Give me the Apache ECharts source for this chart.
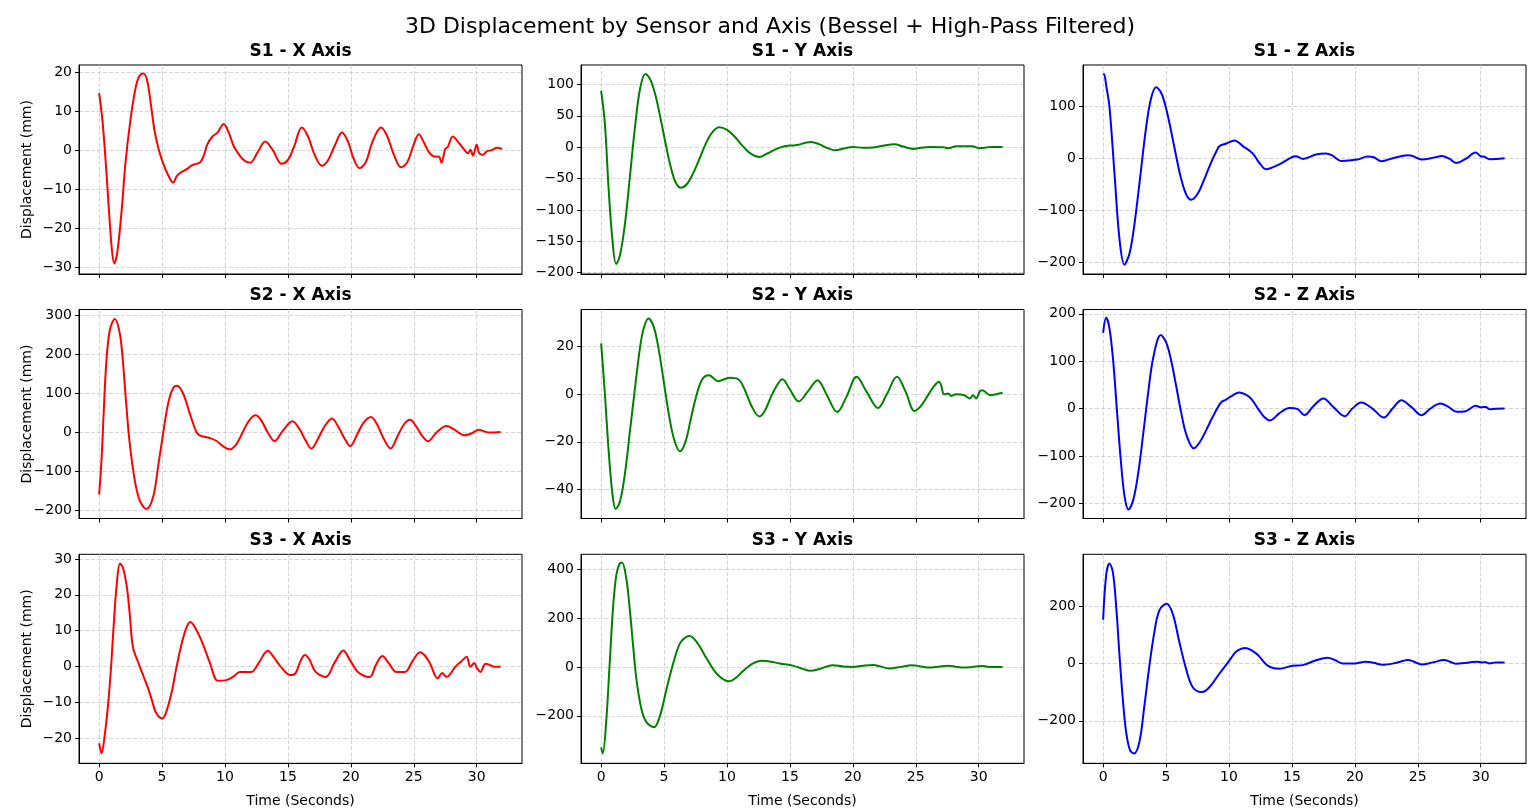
<!DOCTYPE html>
<html>
<head>
<meta charset="utf-8">
<script src="https://cdn.jsdelivr.net/npm/echarts@6/dist/echarts.min.js"></script>
<style>
  html, body { margin: 0; padding: 0; background: #fff; }
  #chart { width: 1539px; height: 810px; }
</style>
</head>
<body>
<div id="chart"></div>
<script>
// [time (s), displacement (mm)]
const s1x = [[0,14.6],[0.25,8],[0.5,-2],[0.75,-14],[1.0,-25],[1.2,-29],[1.45,-26],[1.8,-15],[2.1,-3],[2.5,8],[2.9,16],[3.2,19],[3.5,19.6],[3.8,18],[4.1,12],[4.4,5],[4.75,0],[5.1,-3.5],[5.5,-6.5],[5.87,-8.3],[6.2,-6.5],[6.6,-5.5],[7.0,-4.8],[7.3,-4],[7.7,-3.5],[8.0,-3.2],[8.3,-1.5],[8.6,1.5],[9.0,3.5],[9.4,4.5],[9.9,6.7],[10.3,4.5],[10.7,1],[11.2,-1.5],[11.6,-2.8],[12.0,-3.2],[12.6,-0.5],[13.2,2.2],[13.8,0],[14.5,-3.5],[15.0,-2.5],[15.5,1],[16.1,5.8],[16.6,3.5],[17.1,-1],[17.7,-4],[18.2,-2.5],[18.7,1],[19.3,4.5],[19.8,2],[20.2,-2],[20.7,-4.6],[21.2,-3],[21.7,2],[22.4,5.8],[22.9,3.5],[23.4,-1],[24.0,-4.4],[24.5,-3],[25.0,1.5],[25.4,4.1],[25.8,2],[26.2,-0.5],[26.6,-1.6],[27.0,-1.7],[27.2,-3.2],[27.5,0.3],[27.7,0.8],[28.1,3.5],[28.6,1.8],[29.0,0.2],[29.3,-0.8],[29.5,0.1],[29.7,-1.4],[30.0,1.4],[30.2,-0.8],[30.5,-1.2],[30.8,-0.3],[31.2,0],[31.6,0.6],[32.0,0.3]];
const s1y = [[0,89.6],[0.3,37],[0.6,-68],[0.9,-148],[1.19,-186],[1.5,-172],[1.9,-121],[2.3,-44],[2.7,34],[3.1,94],[3.52,116.6],[3.9,108],[4.3,84],[4.7,48],[5.1,8],[5.5,-29],[5.9,-55],[6.32,-64.6],[6.8,-59],[7.3,-42],[7.8,-19],[8.3,5],[8.8,23],[9.39,31.8],[10.0,27.6],[10.6,17],[11.2,3],[11.8,-9],[12.57,-15.4],[13.2,-10],[13.9,-3],[14.5,1],[15.0,2.6],[15.6,3.5],[16.2,7],[16.7,8.5],[17.3,5],[18.0,-1.5],[18.6,-4.8],[19.3,-2],[20.0,0.5],[20.8,-1],[21.6,-0.5],[22.4,2.5],[23.3,4.8],[24.0,1],[24.8,-2.7],[25.4,-1],[26.1,0.5],[27.2,0],[27.6,-1.6],[28.2,1.6],[29.5,1.6],[30.0,-1.6],[30.5,-1],[30.9,0.5],[31.9,0.5]];
const s1z = [[0,160.6],[0.08,162],[0.24,141],[0.5,100],[0.9,-28],[1.3,-155],[1.69,-204],[2.1,-182],[2.5,-124],[2.95,-34],[3.4,57],[3.8,115],[4.21,137],[4.6,127],[5.0,97],[5.4,53],[5.8,5],[6.2,-39],[6.6,-69],[6.99,-79],[7.5,-68],[8.0,-42],[8.5,-12],[9.0,14],[9.24,24],[9.8,29],[10.43,35],[11.1,24],[11.9,9.6],[12.4,-8],[12.95,-20.5],[14.0,-11],[14.93,2],[15.3,4.5],[15.9,-0.6],[16.9,7.7],[17.7,9.6],[18.2,6],[18.9,-4.5],[20.2,-1.9],[21.0,3.9],[21.5,2.5],[22.1,-5],[23.1,1.3],[24.2,6.4],[24.6,5],[25.3,-1.9],[26.4,2.6],[26.9,5],[27.5,0],[28.05,-8.3],[28.8,-0.6],[29.6,11.6],[30.0,4.5],[30.3,3.5],[30.7,-1.3],[31.2,-1],[31.9,0.6]];
const s2x = [[0,-159],[0.19,-71],[0.37,57],[0.58,185],[0.85,262],[1.24,291],[1.64,254],[1.9,177],[2.17,66],[2.43,-28],[2.83,-122],[3.23,-174],[3.76,-196],[4.29,-165],[4.68,-88],[5.08,-3],[5.48,74],[5.87,113],[6.19,120],[6.67,100],[7.2,49],[7.72,2],[7.99,-7],[8.78,-14],[9.3,-21],[9.84,-35],[10.37,-43],[10.9,-30],[11.4,0],[11.9,30],[12.44,44],[12.9,30],[13.4,0],[13.94,-22],[14.6,5],[15.36,29],[15.9,10],[16.4,-20],[16.86,-41],[17.4,-15],[17.9,15],[18.5,36],[19.0,15],[19.5,-15],[19.95,-35],[20.5,-5],[21.0,25],[21.6,40],[22.1,20],[22.6,-15],[23.16,-41],[23.7,-10],[24.2,20],[24.7,32.5],[25.2,15],[25.7,-10],[26.14,-22],[26.8,0],[27.6,17],[28.2,8],[29.0,-7],[29.6,-2],[30.16,7],[30.6,3],[31.0,0],[31.9,1.7]];
const s2y = [[0,21.4],[0.3,0],[0.6,-24],[0.9,-42],[1.16,-48.2],[1.5,-45],[1.9,-33],[2.3,-15],[2.7,3],[3.1,20],[3.4,28],[3.76,31.8],[4.2,28],[4.6,18],[5.0,4.4],[5.4,-9],[5.8,-19],[6.27,-24],[6.7,-20],[7.1,-11],[7.5,-2],[8.0,6],[8.57,8],[9.3,5.5],[10.2,6.9],[10.9,6.3],[11.4,2],[12.0,-5.5],[12.57,-9.3],[13.0,-7],[13.5,-1],[14.0,4],[14.4,6.3],[15.0,2],[15.7,-3],[16.4,1],[17.2,5.9],[17.9,0],[18.76,-7.5],[19.5,-1],[20.3,7.3],[21.1,1],[22.0,-5.8],[22.7,0],[23.5,7.3],[24.2,1],[24.9,-7],[25.4,-5],[25.9,-1],[26.4,3],[26.85,5.2],[27.0,4],[27.25,0],[27.6,0.3],[27.8,-0.7],[28.2,0],[28.8,-0.3],[29.3,-1.8],[29.55,-0.4],[29.8,-1.8],[30.1,1.3],[30.3,1.7],[30.9,-0.4],[31.4,0],[31.9,0.6]];
const s2z = [[0,159.6],[0.24,191.5],[0.5,170],[0.8,100],[1.1,-5],[1.4,-108],[1.7,-185],[2.01,-213],[2.4,-192],[2.8,-134],[3.2,-50],[3.6,38],[4.0,110],[4.58,155],[5.0,140],[5.4,102],[5.8,48],[6.2,-8],[6.6,-54],[7.2,-84],[7.7,-70],[8.2,-45],[8.7,-18],[9.37,12.8],[9.77,19],[10.3,28],[10.8,34],[11.3,30],[11.75,21],[12.3,0],[12.8,-18],[13.26,-25],[14.0,-10],[14.8,1.4],[15.46,-1.4],[16.0,-14],[16.7,5],[17.5,21.3],[18.3,3],[19.2,-16.3],[19.8,0],[20.5,12.8],[21.4,0],[22.3,-19],[23.0,0],[23.7,17.7],[24.5,3],[25.3,-14],[26.0,0],[26.8,10.6],[27.4,4],[28.1,-7],[28.8,-5.7],[29.6,5.7],[30.0,2.8],[30.4,3.5],[30.7,-1.4],[31.2,-0.5],[31.9,0]];
const s3x = [[0,-21.4],[0.19,-24.2],[0.45,-19],[0.72,-10.3],[0.95,0],[1.13,10.1],[1.4,23],[1.66,28.7],[1.9,27.5],[2.2,22.2],[2.45,14],[2.68,5.5],[3.14,0.8],[3.5,-2.5],[3.94,-6.6],[4.2,-9.5],[4.48,-12.6],[4.75,-14],[5.0,-14.5],[5.3,-13],[5.8,-6.6],[6.1,-1],[6.5,5.5],[6.9,10.5],[7.24,12.4],[7.6,11],[8.23,6.4],[8.8,1],[9.44,-4],[10.1,-3.8],[10.64,-2.9],[11.18,-1.5],[12.1,-1.5],[12.65,0.8],[13.4,4.4],[13.9,2.5],[14.4,0.1],[15.2,-2.4],[15.6,-1.9],[16.0,1.5],[16.35,3.2],[16.7,2],[17.2,-1.5],[18.0,-2.9],[18.7,1],[19.4,4.5],[19.9,2],[20.56,-1.5],[21.5,-2.9],[22.0,0.5],[22.5,2.9],[23.0,1],[23.6,-1.5],[24.3,-1.5],[24.9,1.5],[25.5,4],[25.9,3],[26.3,0.8],[26.9,-3.3],[27.25,-1.8],[27.6,-2.9],[28.3,-0.1],[28.8,1.5],[29.2,2.7],[29.5,-0.1],[29.8,1.0],[30.0,-0.3],[30.3,-1.5],[30.7,0.8],[31.0,0.5],[31.4,-0.1],[31.9,-0.1]];
const s3y = [[0,-329],[0.13,-354],[0.4,-226],[0.67,5],[0.94,238],[1.2,374],[1.47,422],[1.66,426],[2.0,361],[2.27,238],[2.54,87],[2.8,-49],[3.2,-172],[3.6,-226],[4.2,-247],[4.68,-199],[5.2,-90],[5.75,19],[6.28,98],[6.8,124],[7.03,126],[7.6,101],[8.4,33],[9.2,-29],[10.16,-59],[10.7,-45],[11.3,-16],[12.0,12],[12.75,25],[13.4,22],[14.2,14],[15.3,4],[16.0,-8],[16.6,-16],[17.4,-8],[18.4,7],[19.2,2],[20.0,0],[20.8,5],[21.6,8],[22.3,0],[22.9,-7],[23.8,0],[24.7,7],[25.4,2],[26.1,-3],[26.8,1],[27.6,5],[28.2,0],[28.8,-3],[29.5,0],[30.2,4],[30.7,1],[31.1,0],[31.9,0]];
const s3z = [[0,152],[0.24,307],[0.5,348],[0.77,319],[1.03,202],[1.3,28],[1.56,-123],[1.83,-240],[2.14,-303],[2.46,-314],[2.88,-274],[3.28,-147],[3.68,-7],[4.07,109],[4.47,185],[5.05,208],[5.53,173],[6.06,74],[6.59,-19],[7.12,-83],[7.86,-100],[8.44,-83],[9.23,-36],[10.03,10],[10.6,42],[11.3,54],[11.8,45],[12.3,29],[13.08,-8],[14.0,-18.5],[15.06,-8],[15.86,-6],[16.8,9],[17.85,20],[18.4,12],[19.04,0],[19.96,0],[20.9,6],[21.5,2],[22.2,-5],[23.3,2],[24.2,11.6],[24.7,6],[25.3,-3.5],[26.2,3.5],[27.1,11.6],[27.6,5],[28.0,-1],[29.1,3.5],[29.7,6],[30.1,3.5],[30.4,4],[30.7,0],[31.2,3.5],[31.9,3.5]];

const sensors = ['S1', 'S2', 'S3'];
const axesNames = ['X', 'Y', 'Z'];
const colors = ['#ff0000', '#008000', '#0000ff'];
const seriesData = [[s1x, s1y, s1z], [s2x, s2y, s2z], [s3x, s3y, s3z]];

// tick labels
const timeTicks = [0, 5, 10, 15, 20, 25, 30];
const yTicks = [
  [[-30, -20, -10, 0, 10, 20], [-200, -150, -100, -50, 0, 50, 100], [-200, -100, 0, 100]],
  [[-200, -100, 0, 100, 200, 300], [-40, -20, 0, 20], [-200, -100, 0, 100, 200]],
  [[-20, -10, 0, 10, 20, 30], [-200, 0, 200, 400], [-200, 0, 200]]
];
// axis limits [min, max]
const yLimits = [
  [[-31.7, 21.8], [-202, 131], [-222, 180]],
  [[-220, 315], [-52.2, 35.6], [-232, 209]],
  [[-27, 31.3], [-394, 460], [-348, 380]]
];
const timeLimits = [-1.6, 33.6];

const lefts = [79, 581, 1083];
const tops = [65, 309.5, 554.3];
const W = 443, H = 209;
const FONT = 'DejaVu Sans';
const minus = v => String(v).replace('-', '\u2212');
const gridLine = { show: true, lineStyle: { color: '#c9c9c9', width: 0.8, type: [4, 2] } };

let option = {
  animation: false,
  backgroundColor: '#fff',
  title: [{
    text: '3D Displacement by Sensor and Axis (Bessel + High-Pass Filtered)',
    left: 770, top: 16, textAlign: 'center', padding: 0,
    textStyle: { fontFamily: FONT, fontSize: 22, fontWeight: 'normal', color: '#000' }
  }],
  grid: [], xAxis: [], yAxis: [], series: []
};

for (let r = 0; r < 3; r++) {
  for (let c = 0; c < 3; c++) {
    let i = r * 3 + c;
    option.title.push({
      text: sensors[r] + ' - ' + axesNames[c] + ' Axis',
      left: lefts[c] + W / 2, top: tops[r] - 22, textAlign: 'center', padding: 0,
      textStyle: { fontFamily: FONT, fontSize: 17, fontWeight: 'bold', color: '#000' }
    });
    option.grid.push({
      left: lefts[c], top: tops[r], width: W, height: H,
      show: true, borderColor: '#000', borderWidth: 1, backgroundColor: '#fff',
      outerBoundsMode: 'none'
    });
    option.xAxis.push({
      gridIndex: i, type: 'value', min: timeLimits[0], max: timeLimits[1],
      name: r == 2 ? 'Time (Seconds)' : '', nameLocation: 'middle', nameGap: 31,
      nameMoveOverlap: false,
      nameTextStyle: { fontFamily: FONT, fontSize: 14, color: '#000' },
      axisLine: { show: true, onZero: false, lineStyle: { color: '#000', width: 1 } },
      axisTick: { show: true, length: 4, customValues: timeTicks, lineStyle: { color: '#000' } },
      axisLabel: { show: r == 2, margin: 7, color: '#000', fontFamily: FONT, fontSize: 14,
        customValues: timeTicks, formatter: minus },
      splitLine: gridLine
    });
    option.yAxis.push({
      gridIndex: i, type: 'value', min: yLimits[r][c][0], max: yLimits[r][c][1],
      name: c == 0 ? 'Displacement (mm)' : '', nameLocation: 'middle', nameGap: 45,
      nameMoveOverlap: false,
      nameTextStyle: { fontFamily: FONT, fontSize: 14, color: '#000' },
      axisLine: { show: true, onZero: false, lineStyle: { color: '#000', width: 1 } },
      axisTick: { show: true, length: 4, customValues: yTicks[r][c], lineStyle: { color: '#000' } },
      axisLabel: { margin: 7, color: '#000', fontFamily: FONT, fontSize: 14,
        customValues: yTicks[r][c], formatter: minus },
      splitLine: gridLine
    });
    option.series.push({
      type: 'line', xAxisIndex: i, yAxisIndex: i,
      data: seriesData[r][c], showSymbol: false, smooth: 0.35,
      lineStyle: { color: colors[c], width: 2 }, itemStyle: { color: colors[c] },
      clip: true
    });
  }
}

let myChart = echarts.init(document.getElementById('chart'));
myChart.setOption(option);
</script>
</body>
</html>
